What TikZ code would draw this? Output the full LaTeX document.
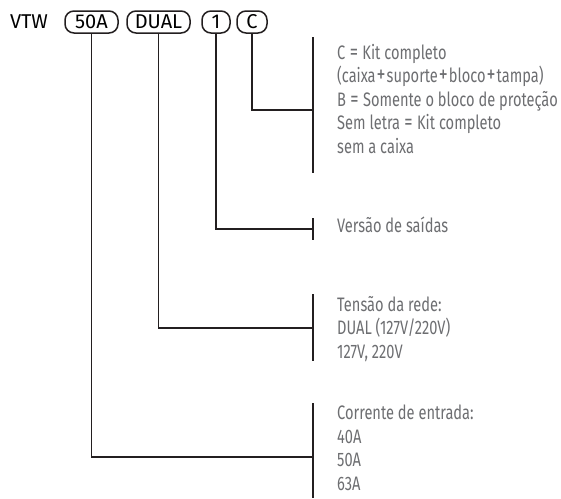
\documentclass[tikz,border=0pt]{standalone}
\usepackage{fontspec}
\setmainfont{Fira Sans}
\newfontfamily\condfont[FakeStretch=0.75]{Fira Sans}
\usetikzlibrary{positioning}
\definecolor{inkline}{HTML}{231F20}
\definecolor{inktext}{HTML}{6D6E71}
\newcommand\mais{\makebox[11pt]{\fontsize{24}{24}\selectfont +}}
\newcommand\igual{\makebox[17pt]{\fontsize{22}{24}\selectfont =}}

\begin{document}
\begin{tikzpicture}[x=1pt,y=-1pt,
  code/.style={draw=inkline,line width=1.5pt,rounded corners=9pt,inner sep=0pt,
    minimum height=22pt,font=\fontsize{20}{20}\selectfont},
  note/.style={anchor=north west,inner sep=0pt,align=left,text=inktext,
    font=\condfont\fontsize{19.5}{23.5}\selectfont},
  wire/.style={draw=inkline,line width=1.5pt},
  bar/.style={draw=inkline,line width=1.8pt}]
  \useasboundingbox (0,0) rectangle (561,498);

  % codigo do produto
  \node (vtw) at (29,22) [font=\fontsize{20}{20}\selectfont]{VTW};
  \node[code,minimum width=53pt] (v50) at (91.5,22){50A};
  \node[code,minimum width=63pt] (vdual) at (158.5,22){DUAL};
  \node[code,minimum width=28pt] (v1) at (216,22){1};
  \node[code,minimum width=30pt] (vc) at (252,22){C};

  % barras das legendas
  \coordinate (kitT) at (313,37);   \coordinate (kitB) at (313,173);  \coordinate (kitM) at (313,110);
  \coordinate (versT) at (313,218); \coordinate (versB) at (313,240); \coordinate (versM) at (313,229);
  \coordinate (tensT) at (313,294); \coordinate (tensB) at (313,361); \coordinate (tensM) at (313,328);
  \coordinate (corrT) at (313,403); \coordinate (corrB) at (313,498); \coordinate (corrM) at (313,457);

  \draw[bar](kitT)--(kitB);
  \draw[bar](versT)--(versB);
  \draw[bar](tensT)--(tensB);
  \draw[bar](corrT)--(corrB);

  \draw[wire](vc.south)|-(kitM);
  \draw[wire](v1.south)|-(versM);
  \draw[wire](vdual.south)|-(tensM);
  \draw[wire](v50.south)|-(corrM);

  % textos
  \node[note] (kit) at (337,44){C\igual Kit completo\\(caixa\mais suporte\mais bloco\mais tampa)\\B\igual Somente o bloco de proteção\\Sem letra\igual Kit completo\\sem a caixa};
  \node[note] (vers) at (337,217){Versão de saídas};
  \node[note] (tens) at (337,296){Tensão da rede:\\DUAL (127V/220V)\\127V, 220V};
  \node[note] (corr) at (337,405){Corrente de entrada:\\40A\\50A\\63A};
\end{tikzpicture}
\end{document}
